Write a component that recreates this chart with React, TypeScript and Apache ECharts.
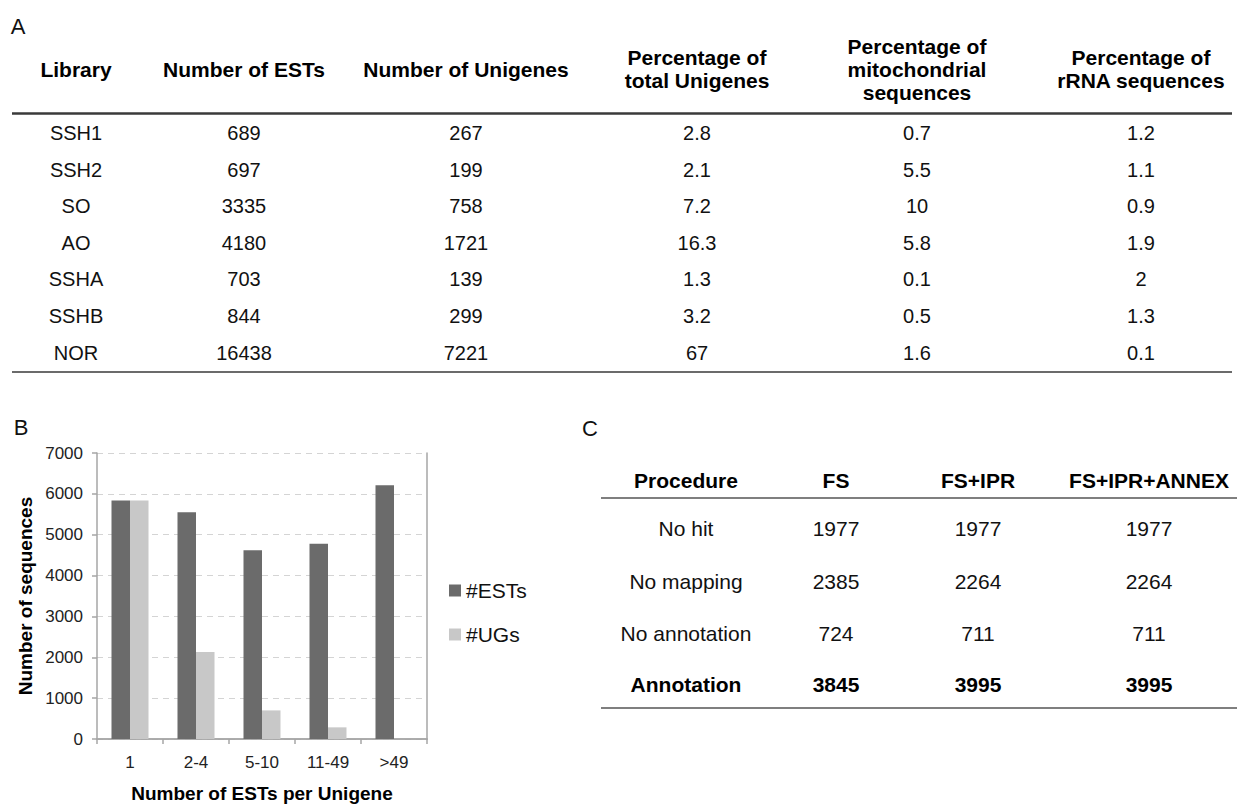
import React, { useEffect, useRef } from "react";
import * as echarts from "echarts";

// ---------- Panel A data ----------
const libraries = ["SSH1", "SSH2", "SO", "AO", "SSHA", "SSHB", "NOR"];
const numESTs = [689, 697, 3335, 4180, 703, 844, 16438];
const numUnigenes = [267, 199, 758, 1721, 139, 299, 7221];
const pctTotalUnigenes = [2.8, 2.1, 7.2, 16.3, 1.3, 3.2, 67];
const pctMitochondrial = [0.7, 5.5, 10, 5.8, 0.1, 0.5, 1.6];
const pctRRNA = [1.2, 1.1, 0.9, 1.9, 2, 1.3, 0.1];
const tableAHeaders = [
  ["Library"],
  ["Number of ESTs"],
  ["Number of Unigenes"],
  ["Percentage of", "total Unigenes"],
  ["Percentage of", "mitochondrial", "sequences"],
  ["Percentage of", "rRNA sequences"],
];

// ---------- Panel B data ----------
const estBins = ["1", "2-4", "5-10", "11-49", ">49"];
const estCounts = [5840, 5550, 4620, 4780, 6210];
const ugCounts = [5840, 2130, 700, 285, 0];
const yTicks = [0, 1000, 2000, 3000, 4000, 5000, 6000, 7000];

// ---------- Panel C data ----------
const tableCHeaders = ["Procedure", "FS", "FS+IPR", "FS+IPR+ANNEX"];
const procedures = ["No hit", "No mapping", "No annotation", "Annotation"];
const fsValues = [1977, 2385, 724, 3845];
const fsIprValues = [1977, 2264, 711, 3995];
const fsIprAnnexValues = [1977, 2264, 711, 3995];

const FONT = '"Liberation Sans", Arial, Helvetica, sans-serif';

function txt(text: string, x: number, y: number, font: string, fill = "#111", align = "center") {
  return {
    type: "text",
    x,
    y,
    silent: true,
    style: {
      text,
      x: 0,
      y: 0,
      font,
      fill,
      align,
      verticalAlign: "middle",
      textAlign: align,
      textVerticalAlign: "middle",
    },
  };
}

function hline(x1: number, x2: number, y: number, w: number, color: string) {
  return {
    type: "line",
    silent: true,
    shape: { x1, y1: y, x2, y2: y },
    style: { stroke: color, lineWidth: w },
  };
}

export default function App() {
  const ref = useRef<HTMLDivElement>(null);

  useEffect(() => {
    document.body.style.margin = "0";
    if (!ref.current) return;
    const chart = echarts.init(ref.current, undefined, { renderer: "svg" });

    const g: any[] = [];
    // Panel labels
    g.push(txt("A", 18, 26, `22px ${FONT}`, "#111"));
    g.push(txt("B", 21, 427, `22px ${FONT}`, "#111"));
    g.push(txt("C", 590, 428, `22px ${FONT}`, "#111"));

    // ----- Table A -----
    const colA = [76, 244, 466, 697, 917, 1141];
    const headFontA = `bold 21px ${FONT}`;
    const bodyFontA = `20px ${FONT}`;
    const headCenter = 69;
    const headLine = 23;
    tableAHeaders.forEach((lines, ci) => {
      const n = lines.length;
      lines.forEach((l, li) => {
        const y = headCenter + (li - (n - 1) / 2) * headLine;
        g.push(txt(l, colA[ci], y, headFontA, "#000"));
      });
    });
    g.push(hline(12, 1232, 113.5, 2.5, "#3a3a3a"));
    const rowY0 = 133;
    const rowStep = 36.6;
    const colsA = [libraries, numESTs, numUnigenes, pctTotalUnigenes, pctMitochondrial, pctRRNA];
    libraries.forEach((_, ri) => {
      colsA.forEach((col, ci) => {
        g.push(txt(String(col[ri]), colA[ci], rowY0 + ri * rowStep, bodyFontA, "#111"));
      });
    });
    g.push(hline(12, 1232, 372, 1.5, "#3a3a3a"));

    // ----- Table C -----
    const colC = [686, 836, 978, 1149];
    const headFontC = `bold 21px ${FONT}`;
    tableCHeaders.forEach((h, ci) => g.push(txt(h, colC[ci], 480, headFontC, "#000")));
    g.push(hline(601, 1237, 498, 1.5, "#555"));
    const rowsC = [528, 581, 633, 684];
    procedures.forEach((p, ri) => {
      const bold = ri === procedures.length - 1;
      const f = bold ? `bold 21px ${FONT}` : `21px ${FONT}`;
      const color = bold ? "#000" : "#111";
      const vals = [p, fsValues[ri], fsIprValues[ri], fsIprAnnexValues[ri]];
      vals.forEach((v, ci) => g.push(txt(String(v), colC[ci], rowsC[ri], f, color)));
    });
    g.push(hline(601, 1237, 708, 1.5, "#555"));

    const axisGray = "#a6a6a6";

    chart.setOption({
      animation: false,
      backgroundColor: "#ffffff",
      textStyle: { fontFamily: FONT },
      grid: { left: 97, top: 453, width: 330, height: 287, containLabel: false },
      legend: {
        orient: "vertical",
        left: 444,
        top: 575,
        itemWidth: 12,
        itemHeight: 12,
        itemGap: 23,
        icon: "rect",
        textStyle: { fontSize: 21, color: "#111", fontFamily: FONT, padding: [0, 0, 0, 0] },
        data: ["#ESTs", "#UGs"],
      },
      xAxis: [
        {
          type: "category",
          data: estBins,
          position: "bottom",
          axisLine: { show: true, lineStyle: { color: axisGray, width: 1.5 } },
          axisTick: { show: true, alignWithLabel: false, length: 5, lineStyle: { color: axisGray, width: 1.5 } },
          axisLabel: { fontSize: 17, color: "#222", margin: 15, fontFamily: FONT },
          name: "Number of ESTs per Unigene",
          nameLocation: "middle",
          nameGap: 45,
          nameTextStyle: { fontSize: 19, fontWeight: "bold", color: "#000", fontFamily: FONT },
          splitLine: { show: false },
        },
        {
          type: "category",
          data: estBins,
          position: "top",
          axisLine: { show: true, lineStyle: { color: axisGray, width: 1.5 } },
          axisTick: { show: false },
          axisLabel: { show: false },
          splitLine: { show: false },
        },
      ],
      yAxis: [
        {
          type: "value",
          min: yTicks[0],
          max: yTicks[yTicks.length - 1],
          interval: 1000,
          axisLine: { show: true, lineStyle: { color: axisGray, width: 1.5 } },
          axisTick: { show: true, length: 5, lineStyle: { color: axisGray, width: 1.5 } },
          axisLabel: {
            fontSize: 17,
            color: "#222",
            margin: 14,
            fontFamily: FONT,
            formatter: (v: number) => String(v),
          },
          splitLine: { show: true, lineStyle: { color: "#d4d4d4", type: [6, 5], width: 1 } },
          name: "Number of sequences",
          nameLocation: "middle",
          nameRotate: 90,
          nameGap: 62,
          nameTextStyle: { fontSize: 19, fontWeight: "bold", color: "#000", fontFamily: FONT },
        },
        {
          type: "value",
          min: yTicks[0],
          max: yTicks[yTicks.length - 1],
          interval: 1000,
          position: "right",
          axisLine: { show: true, lineStyle: { color: axisGray, width: 1.5 } },
          axisTick: { show: false },
          axisLabel: { show: false },
          splitLine: { show: false },
        },
      ],
      series: [
        {
          name: "#ESTs",
          type: "bar",
          data: estCounts,
          barWidth: 18.5,
          barGap: "0%",
          itemStyle: { color: "#6b6b6b" },
          z: 3,
        },
        {
          name: "#UGs",
          type: "bar",
          data: ugCounts,
          barWidth: 18.5,
          barGap: "0%",
          itemStyle: { color: "#c8c8c8" },
          z: 3,
        },
      ],
      graphic: g,
    });

    return () => {
      chart.dispose();
    };
  }, []);

  return <div ref={ref} style={{ width: 1239, height: 804 }} />;
}
